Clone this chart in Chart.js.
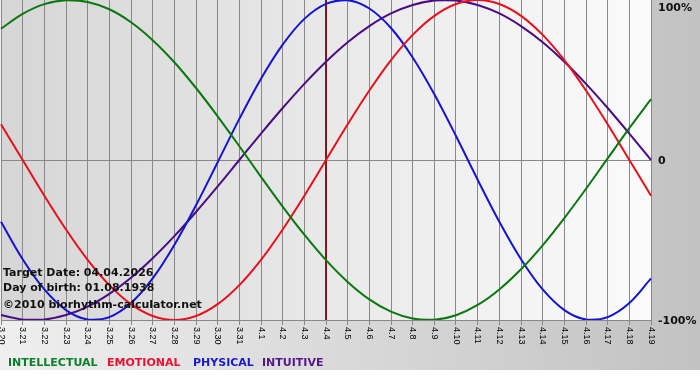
<!DOCTYPE html>
<html>
<head>
<meta charset="utf-8">
<script src="https://cdn.jsdelivr.net/npm/chart.js@4/dist/chart.umd.min.js"></script>
<style>
html,body{margin:0;padding:0;background:#fff;}
#wrap{position:relative;width:700px;height:380px;}
</style>
</head>
<body>
<div id="wrap"><canvas id="c" width="700" height="380"></canvas></div>
<script>
// ---- data ----
const dayLabels = ['3.20','3.21','3.22','3.23','3.24','3.25','3.26','3.27','3.28','3.29','3.30','3.31',
  '4.1','4.2','4.3','4.4','4.5','4.6','4.7','4.8','4.9','4.10','4.11','4.12','4.13','4.14','4.15','4.16','4.17','4.18','4.19'];
const intellectual = [0.82,0.913,0.974,0.999,0.988,0.942,0.861,0.749,0.611,0.45,0.273,0.086,-0.105,-0.291,-0.467,-0.626,
  -0.762,-0.871,-0.948,-0.991,-0.998,-0.97,-0.906,-0.809,-0.683,-0.533,-0.363,-0.18,0.01,0.199,0.38];
const emotional = [0.223,0,-0.223,-0.434,-0.624,-0.782,-0.901,-0.975,-1,-0.975,-0.901,-0.782,-0.624,-0.434,-0.223,0,
  0.223,0.434,0.624,0.782,0.901,0.975,1,0.975,0.901,0.782,0.624,0.434,0.223,0,-0.223];
const physical = [-0.386,-0.62,-0.809,-0.938,-0.997,-0.982,-0.894,-0.74,-0.531,-0.283,-0.014,0.257,0.508,0.721,0.882,0.976,
  0.999,0.947,0.825,0.641,0.411,0.15,-0.123,-0.386,-0.62,-0.809,-0.938,-0.997,-0.982,-0.894,-0.74];
const intuitive = [-0.969,-0.997,-0.997,-0.969,-0.916,-0.837,-0.736,-0.614,-0.476,-0.325,-0.165,0,0.165,0.325,0.476,0.614,
  0.736,0.837,0.916,0.969,0.997,0.997,0.969,0.916,0.837,0.736,0.614,0.476,0.325,0.165,0];
const seriesNames = ['INTELLECTUAL','EMOTIONAL','PHYSICAL','INTUITIVE'];
const yTickValues = [1, 0, -1];
const yTickLabels = ['100%', '0', '-100%'];
const targetDay = '4.4';
const infoLines = ['Target Date: 04.04.2026', 'Day of birth: 01.08.1938', '\u00A92010 biorhythm-calculator.net'];

// ---- styles ----
const lineColors = ['#0a780f', '#e8101c', '#1414d2', '#4b0c84'];
const legendColors = ['#0b7f2a', '#ee1030', '#1a1acc', '#55168c'];

const bgPlugin = {
  id: 'bg',
  beforeDraw(chart) {
    const ctx = chart.ctx, a = chart.chartArea;
    ctx.save();
    ctx.fillStyle = '#ffffff';
    ctx.fillRect(0, 0, chart.width, chart.height);
    const g = ctx.createLinearGradient(0, 0, chart.width, 0);
    g.addColorStop(0, '#efefef');
    g.addColorStop(1, '#c2c2c2');
    ctx.fillStyle = g;
    ctx.fillRect(0, 0, chart.width, 370);
    const g2 = ctx.createLinearGradient(a.left, 0, a.right, 0);
    g2.addColorStop(0, '#d6d6d6');
    g2.addColorStop(1, '#fbfbfb');
    ctx.fillStyle = g2;
    ctx.fillRect(a.left, a.top, a.right - a.left, a.bottom - a.top);
    ctx.restore();
  },
  beforeDatasetsDraw(chart) {
    const ctx = chart.ctx, a = chart.chartArea;
    const x = chart.scales.x.getPixelForValue(dayLabels.indexOf(targetDay));
    ctx.save();
    ctx.strokeStyle = '#801a1a';
    ctx.lineWidth = 2;
    ctx.beginPath();
    ctx.moveTo(x, a.top);
    ctx.lineTo(x, a.bottom);
    ctx.stroke();
    ctx.restore();
  },
  afterDraw(chart) {
    const ctx = chart.ctx, a = chart.chartArea;
    const xs = chart.scales.x, ys = chart.scales.y;
    ctx.save();
    // x tick labels, rotated clockwise
    ctx.fillStyle = '#000';
    ctx.font = '9px "Liberation Sans", Arial, sans-serif';
    ctx.textAlign = 'left';
    ctx.textBaseline = 'middle';
    dayLabels.forEach((lab, i) => {
      const px = xs.getPixelForValue(i);
      ctx.save();
      ctx.translate(px, a.bottom + 7);
      ctx.rotate(Math.PI / 2);
      ctx.fillText(lab, 0, 0);
      ctx.restore();
    });
    // y tick labels
    ctx.fillStyle = '#111';
    ctx.font = 'bold 11px "DejaVu Sans", Verdana, sans-serif';
    ctx.textBaseline = 'middle';
    yTickValues.forEach((v, i) => {
      let py = ys.getPixelForValue(v);
      py = Math.max(py, a.top + 7);
      ctx.fillText(yTickLabels[i], a.right + 7, py + 1);
    });
    // info text
    ctx.font = 'bold 11px "DejaVu Sans", Verdana, sans-serif';
    ctx.textBaseline = 'alphabetic';
    ctx.fillStyle = '#111';
    const infoY = [276, 291, 308];
    infoLines.forEach((t, i) => ctx.fillText(t, 3, infoY[i]));
    // legend
    const legX = [8, 107, 193, 262];
    seriesNames.forEach((n, i) => {
      ctx.fillStyle = legendColors[i];
      ctx.fillText(n, legX[i], 366);
    });
    ctx.restore();
  }
};

const datasets = [intellectual, emotional, physical, intuitive].map((d, i) => ({
  label: seriesNames[i],
  data: d,
  borderColor: lineColors[i],
  backgroundColor: lineColors[i],
  borderWidth: 2,
  pointRadius: 0,
  tension: 0.35,
  fill: false
}));

new Chart(document.getElementById('c'), {
  type: 'line',
  data: { labels: dayLabels, datasets },
  plugins: [bgPlugin],
  options: {
    responsive: false,
    animation: false,
    events: [],
    layout: { padding: { left: 1, top: 0, right: 0, bottom: 0 } },
    plugins: { legend: { display: false }, tooltip: { enabled: false } },
    scales: {
      x: {
        type: 'category',
        offset: false,
        afterFit(s) { s.height = 60; },
        grid: { color: '#888888', lineWidth: 1, drawTicks: true, tickLength: 5, offset: false },
        border: { display: true, color: '#888888' },
        ticks: { display: false, autoSkip: false }
      },
      y: {
        position: 'right',
        min: -1, max: 1,
        afterFit(s) { s.width = 49; },
        afterBuildTicks(s) { s.ticks = yTickValues.map(v => ({ value: v })); },
        grid: { color: (c) => (c.tick && c.tick.value === 0) ? '#888888' : 'rgba(0,0,0,0)', drawTicks: false },
        border: { display: false },
        ticks: { display: false }
      }
    }
  }
});
</script>
</body>
</html>
